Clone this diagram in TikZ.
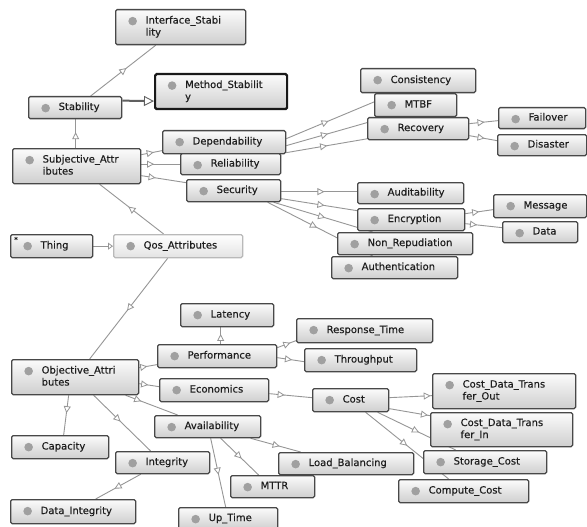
\documentclass[tikz,border=0pt]{standalone}
\usepackage{fontspec}
\setmainfont{DejaVu Sans}[FakeBold=0.4]
\usetikzlibrary{backgrounds,decorations.markings,arrows.meta}
\definecolor{edgec}{RGB}{150,150,150}
\definecolor{boxborder}{RGB}{72,72,72}
\definecolor{dotc}{RGB}{160,160,160}
\definecolor{txt}{RGB}{30,30,30}
\newcommand{\nt}[2]{\hbox to #1pt{\hspace*{30pt}\begin{tabular}[t]{@{}l@{}}#2\end{tabular}\hss}}
\tikzset{
  box/.style={draw=boxborder, line width=1.3pt, rounded corners=1.5pt,
    top color=white!97!gray, bottom color=gray!38, anchor=north west,
    inner sep=0pt, text=txt, font=\fontsize{10}{12}\selectfont,
    path picture={\fill[dotc] ([xshift=17pt,yshift=-11.5pt]path picture bounding box.north west) circle (4.3pt);}},
  lightbox/.style={box, draw=gray!55, top color=white, bottom color=gray!22},
  selbox/.style={box, draw=black!90, line width=2.2pt},
  edge/.style={draw=edgec, line width=0.9pt},
  tri/.style={postaction={decorate}, decoration={markings,
    mark=at position #1 with {\arrow{Triangle[length=7pt,width=7pt,fill=white,line width=0.8pt]}}}},
  thickedge/.style={draw=gray!75!black, line width=2pt,
    -{Triangle[length=10pt,width=10pt,fill=white,line width=0.9pt]}},
}
\begin{document}
\begin{tikzpicture}[x=1pt,y=-1pt]
\useasboundingbox (0,0) rectangle (587,527);
% nodes
\node[box, minimum width=130pt, minimum height=35pt] (intf) at (115,9) {\nt{130}{Interface\_Stabi\\lity}};
\node[selbox, minimum width=132pt, minimum height=35pt] (meth) at (154,73) {\nt{132}{Method\_Stabilit\\y}};
\node[box, minimum width=93pt, minimum height=22pt] (stab) at (28,96) {\nt{93}{Stability}};
\node[box, minimum width=123pt, minimum height=23pt] (dep) at (162,130) {\nt{123}{Dependability}};
\node[box, minimum width=128pt, minimum height=35pt] (subj) at (12,148) {\nt{128}{Subjective\_Attr\\ibutes}};
\node[box, minimum width=100pt, minimum height=21pt] (rel) at (180,153) {\nt{100}{Reliability}};
\node[box, minimum width=94pt, minimum height=22pt] (sec) at (186,179) {\nt{94}{Security}};
\node[box, minimum width=82pt, minimum height=23pt] (thing) at (10,234) {\nt{82}{Thing}};
\node[text=txt, font=\fontsize{7}{7}\selectfont, inner sep=0pt] (thingstar) at (16,239.5) {*};
\node[lightbox, minimum width=129pt, minimum height=23pt] (qos) at (113,234) {\nt{129}{Qos\_Attributes}};
\node[box, minimum width=115pt, minimum height=24pt] (cons) at (360,68) {\nt{115}{Consistency}};
\node[box, minimum width=82pt, minimum height=23pt] (mtbf) at (374,93) {\nt{82}{MTBF}};
\node[box, minimum width=101pt, minimum height=22pt] (rec) at (367,117) {\nt{101}{Recovery}};
\node[box, minimum width=87pt, minimum height=21pt] (fail) at (498,107) {\nt{87}{Failover}};
\node[box, minimum width=89pt, minimum height=21pt] (dis) at (497,134) {\nt{89}{Disaster}};
\node[box, minimum width=106pt, minimum height=21pt] (aud) at (357,182) {\nt{106}{Auditability}};
\node[box, minimum width=107pt, minimum height=22pt] (enc) at (357,208) {\nt{107}{Encryption}};
\node[box, minimum width=93pt, minimum height=23pt] (msg) at (493,194) {\nt{93}{Message}};
\node[box, minimum width=75pt, minimum height=21pt] (data) at (502,221) {\nt{75}{Data}};
\node[box, minimum width=135pt, minimum height=22pt] (nonr) at (337,232) {\nt{135}{Non\_Repudiation}};
\node[box, minimum width=126pt, minimum height=22pt] (auth) at (331,256) {\nt{126}{Authentication}};
\node[box, minimum width=93pt, minimum height=23pt] (lat) at (180,303) {\nt{93}{Latency}};
\node[box, minimum width=119pt, minimum height=23pt] (perf) at (157,344) {\nt{119}{Performance}};
\node[box, minimum width=127pt, minimum height=35pt] (obj) at (11,359) {\nt{127}{Objective\_Attri\\butes}};
\node[box, minimum width=109pt, minimum height=23pt] (eco) at (159,378) {\nt{109}{Economics}};
\node[box, minimum width=106pt, minimum height=22pt] (avail) at (154,415) {\nt{106}{Availability}};
\node[box, minimum width=97pt, minimum height=23pt] (cap) at (11,435) {\nt{97}{Capacity}};
\node[box, minimum width=94pt, minimum height=22pt] (integ) at (115,451) {\nt{94}{Integrity}};
\node[box, minimum width=84pt, minimum height=22pt] (mttr) at (230,475) {\nt{84}{MTTR}};
\node[box, minimum width=135pt, minimum height=22pt] (lb) at (278,452) {\nt{135}{Load\_Balancing}};
\node[box, minimum width=125pt, minimum height=24pt] (dint) at (10,499) {\nt{125}{Data\_Integrity}};
\node[box, minimum width=99pt, minimum height=22pt] (up) at (178,507) {\nt{99}{Up\_Time}};
\node[box, minimum width=136pt, minimum height=24pt] (resp) at (296,318) {\nt{136}{Response\_Time}};
\node[box, minimum width=112pt, minimum height=23pt] (thr) at (304,348) {\nt{112}{Throughput}};
\node[box, minimum width=76pt, minimum height=23pt] (cost) at (312,388) {\nt{76}{Cost}};
\node[box, minimum width=143pt, minimum height=35pt] (cdto) at (432,373) {\nt{143}{Cost\_Data\_Trans\\fer\_Out}};
\node[box, minimum width=142pt, minimum height=34pt] (cdti) at (430,412) {\nt{142}{Cost\_Data\_Trans\\fer\_In}};
\node[box, minimum width=123pt, minimum height=23pt] (stor) at (423,450) {\nt{123}{Storage\_Cost}};
\node[box, minimum width=130pt, minimum height=23pt] (comp) at (398,479) {\nt{130}{Compute\_Cost}};
% edges
\begin{scope}[on background layer]
\fill[white] (0,0) rectangle (587,527);
\draw[edge, -{Triangle[length=5pt,width=7pt,fill=white,line width=0.8pt]}] (thing.east) -- (qos.west);
\draw[edge,tri=0.55] ([xshift=-14.5pt]qos.north) -- ([xshift=23pt]subj.south);
\draw[edge,tri=0.52] ([xshift=-10.5pt]qos.south) -- ([xshift=14.5pt]obj.north);
\draw[edge,tri=0.55] ([xshift=-1pt]subj.north) -- ([xshift=0.5pt]stab.south);
\draw[edge,tri=0.55] ([xshift=15.5pt]stab.north) -- ([xshift=-25pt]intf.south);
\draw[thickedge] ([yshift=7pt]stab.east) -- ([yshift=-9.5pt]meth.west);
\draw[edge,tri=0.6] ([yshift=11.5pt]subj.east) -- ([yshift=-8.5pt]dep.west);
\draw[edge,tri=0.33] ([yshift=2pt]subj.east) -- (rel.west);
\draw[edge,tri=0.32] ([yshift=-9.5pt]subj.east) -- ([yshift=8pt]sec.west);
\draw[edge,tri=0.39] ([yshift=3.5pt]dep.east) -- ([xshift=-23.5pt]cons.south);
\draw[edge,tri=0.42] ([yshift=-3.5pt]dep.east) -- ([xshift=-30pt]mtbf.south);
\draw[edge,tri=0.5] ([yshift=-10.5pt]dep.east) -- ([xshift=1pt,yshift=-10pt]rec.west);
\draw[edge,tri=0.53] ([yshift=5pt]rec.east) -- ([yshift=-2.5pt]fail.west);
\draw[edge,tri=0.55] ([yshift=-7pt]rec.east) -- ([yshift=4.5pt]dis.west);
\draw[edge,tri=0.57] ([yshift=-1pt]sec.east) -- ([yshift=1.5pt]aud.west);
\draw[edge,tri=0.57] ([yshift=-8pt]sec.east) -- ([yshift=9pt]enc.west);
\draw[edge,tri=0.52] ([xshift=40pt]sec.south) -- ([xshift=-32.5pt]nonr.north);
\draw[edge,tri=0.47] ([xshift=34pt]sec.south) -- ([xshift=-22pt]auth.north);
\draw[edge,tri=0.5] ([yshift=6pt]enc.east) -- ([yshift=-3.5pt]msg.west);
\draw[edge,tri=0.32] ([yshift=-4pt]enc.east) -- ([yshift=4.5pt]data.west);
\draw[edge,tri=0.45] ([yshift=9.5pt]obj.east) -- ([yshift=-8.5pt]perf.west);
\draw[edge,tri=0.45] ([yshift=-6.5pt]obj.east) -- ([yshift=3.5pt]eco.west);
\draw[edge,tri=0.3] ([xshift=50.5pt]obj.south) -- ([xshift=-30pt]avail.north);
\draw[edge,tri=0.47] ([xshift=18.5pt]obj.south) -- ([xshift=-12pt]integ.north);
\draw[edge,tri=0.45] ([xshift=-6.5pt]obj.south) -- ([xshift=3.5pt]cap.north);
\draw[edge,tri=0.6] ([xshift=3.5pt]perf.north) -- ([xshift=-6.5pt]lat.south);
\draw[edge,tri=0.7] ([yshift=8.5pt]perf.east) -- ([yshift=-10pt]resp.west);
\draw[edge,tri=0.55] ([yshift=-1.5pt]perf.east) -- ([yshift=-1.5pt]thr.west);
\draw[edge,tri=0.36] ([yshift=-3.5pt]eco.east) -- ([yshift=2.5pt]cost.west);
\draw[edge,tri=0.58] ([xshift=43pt]avail.south) -- ([xshift=-45.5pt]lb.north);
\draw[edge,tri=0.55] ([xshift=13pt]avail.south) -- ([xshift=-14pt]mttr.north);
\draw[edge,tri=0.53] ([xshift=3pt]avail.south) -- ([xshift=-2.5pt]up.north);
\draw[edge,tri=0.58] ([xshift=-22pt]integ.south) -- ([xshift=22.5pt]dint.north);
\draw[edge,tri=0.97] ([yshift=2.5pt]cost.east) -- ([yshift=-4.5pt]cdto.west);
\draw[edge,tri=0.95] ([yshift=-8.5pt]cost.east) -- ([yshift=14pt]cdti.west);
\draw[edge,tri=0.53] ([xshift=27pt]cost.south) -- ([xshift=-29.5pt]stor.north);
\draw[edge,tri=0.5] ([xshift=15pt]cost.south) -- ([xshift=-15pt]comp.north);
\end{scope}
\end{tikzpicture}
\end{document}
